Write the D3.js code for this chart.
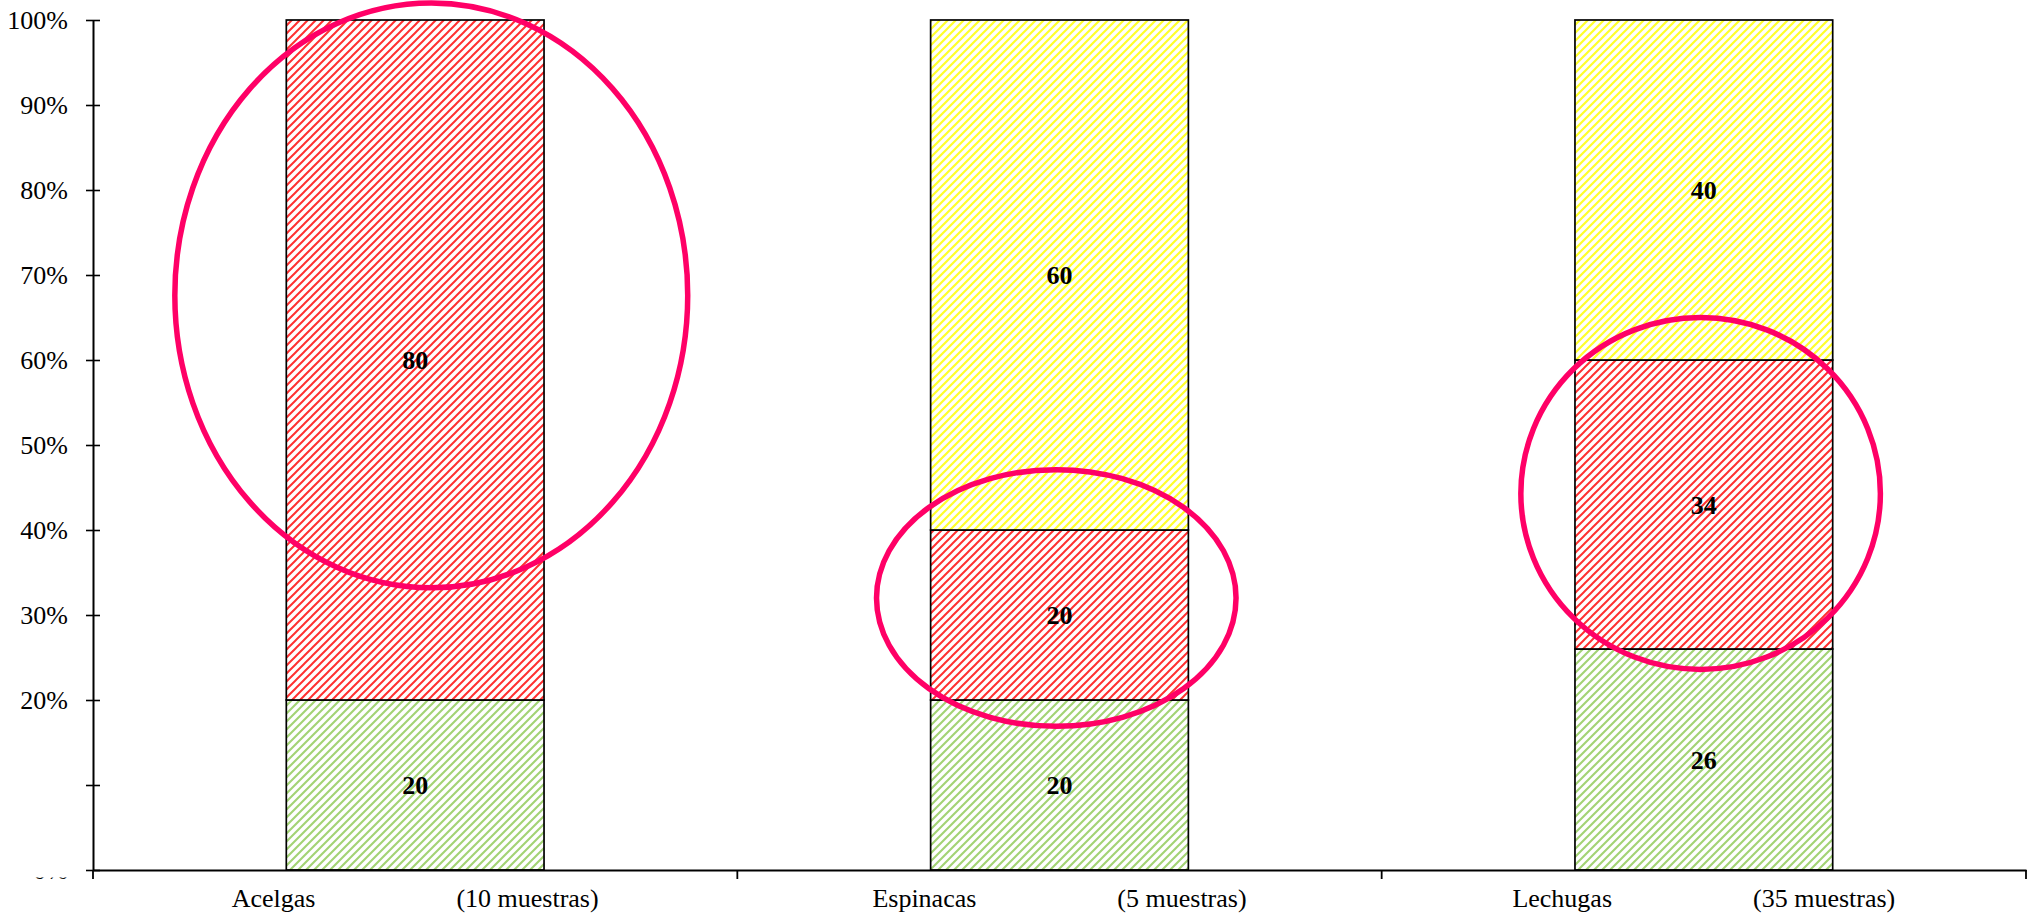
<!DOCTYPE html>
<html>
<head>
<meta charset="utf-8">
<script src="https://cdn.jsdelivr.net/npm/d3@7"></script>
<style>
  html, body { margin: 0; padding: 0; background: #fff; }
  svg { display: block; }
  text { font-family: "Liberation Serif", "Times New Roman", serif; fill: #000; }
</style>
</head>
<body>
<svg id="chart" width="2034" height="921"></svg>
<script>
// Vegetable types and number of samples analysed
const categories = ["Acelgas", "Espinacas", "Lechugas"];
const muestras = [10, 5, 35];

// Share of samples per class (%), stacked bottom to top
const verde = [20, 20, 26];
const rojo = [80, 20, 34];
const amarillo = [0, 60, 40];

// Y axis ticks (%); 10% carries no label
const yTicks = [0, 10, 20, 30, 40, 50, 60, 70, 80, 90, 100];
const yLabelled = [0, 20, 30, 40, 50, 60, 70, 80, 90, 100];

// Highlight rings: centre and half-height in %, horizontal offset and radius in band widths
const ringCategory = ["Acelgas", "Espinacas", "Lechugas"];
const ringCentre = [67.6, 32.0, 44.3];
const ringHalfHeight = [34.4, 15.1, 20.7];
const ringOffset = [0.025, -0.005, -0.005];
const ringRadiusX = [0.398, 0.279, 0.279];

const W = 2034, H = 921;
const margin = { top: 20, right: 8, bottom: 51, left: 93 };

const svg = d3.select("#chart");

// Diagonal hatch fills
const defs = svg.append("defs");
function hatch(id, color, width) {
  const p = defs.append("pattern")
    .attr("id", id)
    .attr("patternUnits", "userSpaceOnUse")
    .attr("width", 8).attr("height", 8);
  p.append("rect").attr("width", 8).attr("height", 8).attr("fill", "#fff");
  p.append("path")
    .attr("d", "M-2,2 L2,-2 M0,8 L8,0 M6,10 L10,6")
    .attr("stroke", color)
    .attr("stroke-width", width);
}
hatch("hatch-verde", "#a3d374", 2.1);
hatch("hatch-rojo", "#ff3030", 2.0);
hatch("hatch-amarillo", "#ffff2a", 2.2);

const x = d3.scaleBand()
  .domain(categories)
  .range([margin.left, W - margin.right])
  .paddingInner(0).paddingOuter(0);

const y = d3.scaleLinear()
  .domain([0, 100])
  .range([H - margin.bottom, margin.top]);

const barW = x.bandwidth() * 0.4;

const series = [
  { key: "verde", fill: "url(#hatch-verde)" },
  { key: "rojo", fill: "url(#hatch-rojo)" },
  { key: "amarillo", fill: "url(#hatch-amarillo)" }
];

const rows = categories.map((c, i) => ({ cat: c, verde: verde[i], rojo: rojo[i], amarillo: amarillo[i] }));
const stacked = d3.stack().keys(series.map(s => s.key))(rows);

// Stacked bar segments
const segs = svg.append("g").attr("class", "bars");
stacked.forEach((layer, li) => {
  layer.forEach(d => {
    const v = d[1] - d[0];
    if (v <= 0) return;
    const cx = x(d.data.cat) + x.bandwidth() / 2;
    segs.append("rect")
      .attr("x", cx - barW / 2)
      .attr("y", y(d[1]))
      .attr("width", barW)
      .attr("height", y(d[0]) - y(d[1]))
      .attr("fill", series[li].fill)
      .attr("stroke", "#000")
      .attr("stroke-width", 1.7);
  });
});

// Segment value labels
const labels = svg.append("g").attr("class", "labels");
stacked.forEach(layer => {
  layer.forEach(d => {
    const v = d[1] - d[0];
    if (v <= 0) return;
    labels.append("text")
      .attr("x", x(d.data.cat) + x.bandwidth() / 2)
      .attr("y", y((d[0] + d[1]) / 2))
      .attr("dy", "0.35em")
      .attr("text-anchor", "middle")
      .attr("font-size", 26)
      .attr("font-weight", "bold")
      .text(v);
  });
});

// Y axis
const yAxis = svg.append("g")
  .attr("transform", `translate(${margin.left},0)`)
  .call(d3.axisLeft(y)
    .tickValues(yTicks)
    .tickSize(7)
    .tickSizeOuter(0)
    .tickPadding(18)
    .tickFormat(d => yLabelled.includes(d) ? d + "%" : ""));
yAxis.select(".domain").attr("stroke", "#000").attr("stroke-width", 2);
yAxis.selectAll(".tick line").attr("x1", 7).attr("stroke-width", 1.6);
yAxis.selectAll(".tick text")
  .attr("font-size", 26)
  .style("font-family", '"Liberation Serif", "Times New Roman", serif');

// The 0% label sits under the category strip; only its lower edge shows
const zeroClip = defs.append("clipPath").attr("id", "clip-zero-local");
zeroClip.append("rect")
  .attr("x", -200).attr("y", 877 - y(0))
  .attr("width", 200).attr("height", 60);
yAxis.selectAll(".tick")
  .filter(d => d === 0)
  .select("text")
  .attr("clip-path", "url(#clip-zero-local)");

// X axis
const xAxis = svg.append("g")
  .attr("transform", `translate(0,${H - margin.bottom})`)
  .call(d3.axisBottom(x).tickSize(0).tickSizeOuter(0).tickFormat(""));
xAxis.select(".domain").attr("stroke", "#000").attr("stroke-width", 2);

// Band boundary ticks
const boundaries = categories.map(c => x(c)).concat([x.range()[1]]);
xAxis.selectAll(".bound")
  .data(boundaries)
  .enter().append("line")
  .attr("class", "bound")
  .attr("x1", d => d).attr("x2", d => d)
  .attr("y1", 0).attr("y2", 9)
  .attr("stroke", "#000").attr("stroke-width", 1.8);

// Category labels: name and sample count
const gap = 141;
xAxis.selectAll(".cat")
  .data(categories)
  .enter().append("text")
  .attr("class", "cat")
  .attr("x", d => x(d) + x.bandwidth() / 2)
  .attr("y", 37)
  .attr("text-anchor", "middle")
  .attr("font-size", 26)
  .each(function (d, i) {
    const t = d3.select(this);
    t.append("tspan").text(d);
    t.append("tspan").attr("dx", gap).text(`(${muestras[i]} muestras)`);
  });

// Highlight rings
const rings = svg.append("g").attr("class", "rings");
ringCategory.forEach((c, i) => {
  rings.append("ellipse")
    .attr("cx", x(c) + x.bandwidth() / 2 + ringOffset[i] * x.step())
    .attr("cy", y(ringCentre[i]))
    .attr("rx", ringRadiusX[i] * x.step())
    .attr("ry", y(0) - y(ringHalfHeight[i]))
    .attr("fill", "none")
    .attr("stroke", "#ff0066")
    .attr("stroke-width", 5.5);
});
</script>
</body>
</html>
